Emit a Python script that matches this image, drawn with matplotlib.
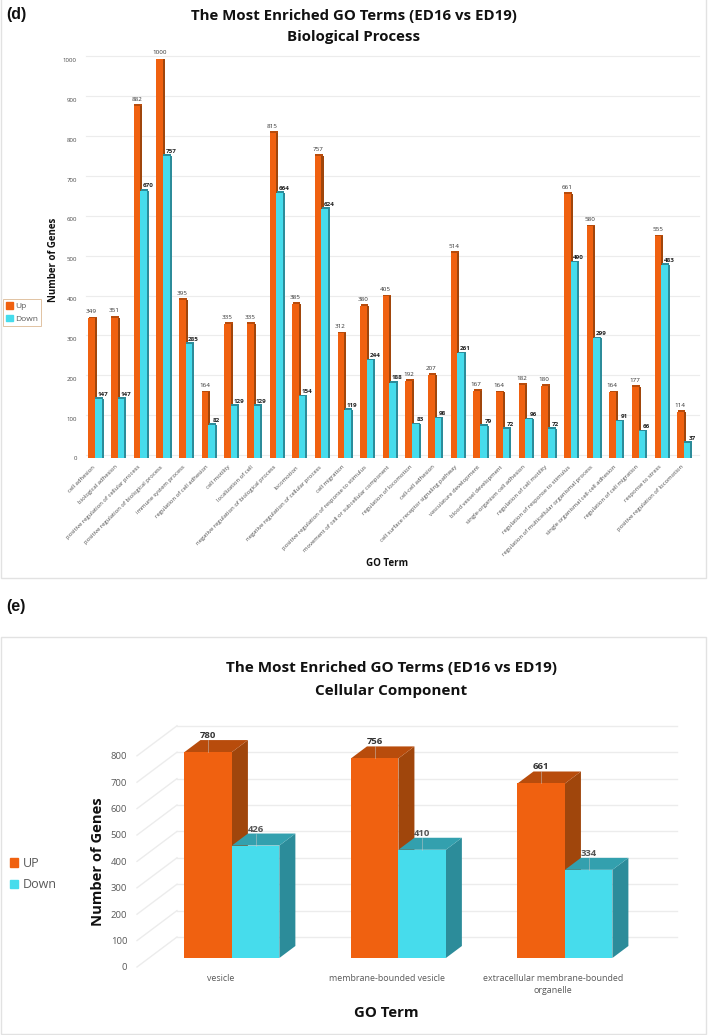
import matplotlib
matplotlib.use("Agg")
import matplotlib.pyplot as plt
from matplotlib.patches import Patch, Rectangle, Polygon
from matplotlib.transforms import ScaledTranslation

plt.rcParams['font.family'] = ['Open Sans', 'DejaVu Sans']

# ---------- data: panel (d) ----------
bp_terms = ["cell adhesion", "biological adhesion", "positive regulation of cellular process",
            "positive regulation of biological process", "immune system process",
            "regulation of cell adhesion", "cell motility", "localization of cell",
            "negative regulation of biological process", "locomotion",
            "negative regulation of cellular process", "cell migration",
            "positive regulation of response to stimulus",
            "movement of cell or subcellular component", "regulation of locomotion",
            "cell-cell adhesion", "cell surface receptor signaling pathway",
            "vasculature development", "blood vessel development",
            "single-organism cell adhesion", "regulation of cell motility",
            "regulation of response to stimulus",
            "regulation of multicellular organismal process",
            "single organismal cell-cell adhesion", "regulation of cell migration",
            "response to stress", "positive regulation of locomotion"]
bp_up = [349, 351, 882, 1000, 395, 164, 335, 335, 815, 385, 757, 312, 380, 405,
         192, 207, 514, 167, 164, 182, 180, 661, 580, 164, 177, 555, 114]
bp_down = [147, 147, 670, 757, 285, 82, 129, 129, 664, 154, 624, 119, 244, 188,
           83, 98, 261, 79, 72, 96, 72, 490, 299, 91, 66, 483, 37]
bp_ticks = list(range(0, 1001, 100))

# ---------- data: panel (e) ----------
cc_terms = ["vesicle", "membrane-bounded vesicle", "extracellular membrane-bounded\norganelle"]
cc_up = [780, 756, 661]
cc_down = [426, 410, 334]
cc_ticks = list(range(0, 801, 100))

# ---------- style ----------
W, H = 708, 1035
ORANGE, ORANGE_SIDE, ORANGE_TOP = '#F06110', '#A0460C', '#B84C0C'
CYAN, CYAN_SIDE, CYAN_TOP = '#46DCEC', '#2C8C9A', '#33A0AE'
GRID = '#ECECEC'
TXT = '#595959'
DARK = '#111111'

fig = plt.figure(figsize=(W / 100, H / 100), dpi=100, facecolor='white')


def px_axes(x0, y_top, x1, y_bot):
    return fig.add_axes([x0 / W, 1 - y_bot / H, (x1 - x0) / W, (y_bot - y_top) / H])


def ftext(x, y, s, **kw):
    kw.setdefault('ha', 'center')
    kw.setdefault('va', 'center')
    return fig.text(x / W, 1 - y / H, s, **kw)


def frame(x0, y0, x1, y1):
    fig.add_artist(Rectangle((x0 / W, 1 - y1 / H), (x1 - x0) / W, (y1 - y0) / H,
                             transform=fig.transFigure, fc='white', ec='#E2E2E2', lw=1, zorder=-5))


def shift_labels(ax, dy_px):
    off = ScaledTranslation(0, dy_px * 0.72 / 72, fig.dpi_scale_trans)
    for lab in ax.get_yticklabels():
        lab.set_transform(lab.get_transform() + off)


frame(1, -2, 706, 578)
frame(1, 637, 706, 1034)

ftext(6, 14, "(d)", ha='left', fontsize=11.5, fontweight='bold', color=DARK, family='Liberation Sans')
ftext(6, 607, "(e)", ha='left', fontsize=11.5, fontweight='bold', color=DARK, family='Liberation Sans')

# ---------- panel (d) ----------
ax = px_axes(86, 59, 699, 457.5)
ax.set_xlim(-0.397, 26.67)
ax.set_ylim(0, 1000)
ax.patch.set_alpha(0)
for s in ax.spines.values():
    s.set_visible(False)

grid_off = 2.5 * 1000 / 398.5   # back wall sits 2.5 px above the bar plane
for v in bp_ticks:
    ax.plot([-0.397, 26.67], [v + grid_off] * 2, color=GRID, lw=0.8, zorder=0, clip_on=False)

bw = 0.29
side = 0.09
cap = 4
xs = list(range(len(bp_terms)))
ax.bar([x - bw / 2 + side for x in xs], bp_up, bw, color=ORANGE_SIDE, zorder=2)
ax.bar([x - bw / 2 for x in xs], bp_up, bw, color=ORANGE, zorder=3)
ax.bar([x + bw / 2 + side for x in xs], bp_down, bw, color=CYAN_SIDE, zorder=4)
ax.bar([x + bw / 2 for x in xs], bp_down, bw, color=CYAN, zorder=5)
ax.bar([x - bw / 2 + side / 2 for x in xs], cap, bw + side * 0.6, bottom=bp_up, color=ORANGE_TOP, zorder=3)
ax.bar([x + bw / 2 + side / 2 for x in xs], cap, bw + side * 0.6, bottom=bp_down, color=CYAN_SIDE, zorder=5)

for x, u, d in zip(xs, bp_up, bp_down):
    ax.annotate(str(u), (x - bw / 2, u), xytext=(-0.3, 3.0), textcoords='offset points',
                ha='center', va='bottom', fontsize=4.5, color='#333333', zorder=6, annotation_clip=False)
    ax.annotate(str(d), (x + bw / 2, d), xytext=(3.4, 1.6), textcoords='offset points',
                ha='center', va='bottom', fontsize=4.5, color='#222222', fontweight='bold', zorder=6,
                annotation_clip=False)

ax.set_xticks([x - 0.12 for x in xs])
ax.set_xticklabels(bp_terms, rotation=45, ha='right', rotation_mode='anchor', fontsize=4.25, color='#4A4A4A')
ax.set_yticks(bp_ticks)
ax.tick_params(axis='both', length=0)
ax.tick_params(axis='x', pad=5)
ax.tick_params(axis='y', pad=6.5, labelsize=4.4, labelcolor='#4A4A4A')
shift_labels(ax, -1)

ftext(354, 16, "The Most Enriched GO Terms (ED16 vs ED19)", fontsize=10.8, fontweight='bold', color=DARK)
ftext(354, 37, "Biological Process", fontsize=10.8, fontweight='bold', color=DARK)
ftext(54, 260, "Number of Genes", rotation=90, fontsize=7, fontweight='bold', color=DARK)
ftext(387, 564, "GO Term", fontsize=7, fontweight='bold', color=DARK)

leg = fig.legend(handles=[Patch(color=ORANGE, label='Up'), Patch(color=CYAN, label='Down')],
                 loc='upper left', bbox_to_anchor=(3 / W, 1 - 299 / H), fontsize=6,
                 handlelength=0.8, handleheight=0.8, handletextpad=0.25, labelspacing=0.55,
                 borderpad=0.4, borderaxespad=0, fancybox=False, edgecolor='#D9B38C',
                 labelcolor=TXT)
leg.get_frame().set_linewidth(0.7)

# ---------- panel (e) ----------
PX_PER_UNIT = 0.264
ax2 = px_axes(137, 725, 677, 967)
ax2.set_xlim(-0.57, 2.673)
ax2.set_ylim(-9 / PX_PER_UNIT, 233 / PX_PER_UNIT)
ax2.patch.set_alpha(0)
for s in ax2.spines.values():
    s.set_visible(False)

depth_x = 16 / 166.5
depth_y = 12 / PX_PER_UNIT
wall_x = -0.57 + 40 / 166.5
front_drop = 9 / PX_PER_UNIT
back_rise = 21 / PX_PER_UNIT
for v in cc_ticks:
    ax2.plot([-0.57, wall_x], [v - front_drop, v + back_rise], color=GRID, lw=1, zorder=0, clip_on=False)
    ax2.plot([wall_x, 2.673], [v + back_rise] * 2, color=GRID, lw=1, zorder=0, clip_on=False)

bw2 = 0.285


def box(x0, v, front, sidec, topc, z):
    x1 = x0 + bw2
    ax2.add_patch(Polygon([(x1, 0), (x1 + depth_x, depth_y), (x1 + depth_x, v + depth_y), (x1, v)],
                          fc=sidec, ec='none', zorder=z))
    ax2.add_patch(Polygon([(x0, v), (x0 + depth_x, v + depth_y), (x1 + depth_x, v + depth_y), (x1, v)],
                          fc=topc, ec='none', zorder=z))
    ax2.bar(x0, v, bw2, align='edge', color=front, zorder=z + 0.1)
    mid = x0 + bw2 / 2
    ax2.plot([mid, mid], [v, v + depth_y], color='#C8C8C8', lw=0.5, alpha=0.7, zorder=z + 0.2)
    return mid


for i, (u, d) in enumerate(zip(cc_up, cc_down)):
    m = box(i - bw2, u, ORANGE, ORANGE_SIDE, ORANGE_TOP, 2)
    ax2.annotate(str(u), (m, u + depth_y), xytext=(0, 0), textcoords='offset points', ha='center',
                 va='bottom', fontsize=6.8, fontweight='bold', color='#333333', zorder=6, annotation_clip=False)
    m = box(i, d, CYAN, CYAN_SIDE, CYAN_TOP, 3)
    ax2.annotate(str(d), (m, d + depth_y), xytext=(0, 0), textcoords='offset points', ha='center',
                 va='bottom', fontsize=6.8, fontweight='bold', color='#555555', zorder=6, annotation_clip=False)

ax2.set_xticks([i - 0.07 for i in range(len(cc_terms))])
ax2.set_xticklabels(cc_terms, fontsize=6.4, color=TXT, linespacing=1.5)
ax2.set_yticks(cc_ticks)
ax2.tick_params(axis='both', length=0)
ax2.tick_params(axis='x', pad=5)
ax2.tick_params(axis='y', pad=7, labelsize=6.8, labelcolor=TXT)
shift_labels(ax2, -9)

ftext(391, 668, "The Most Enriched GO Terms (ED16 vs ED19)", fontsize=11, fontweight='bold', color=DARK)
ftext(391, 691, "Cellular Component", fontsize=11, fontweight='bold', color=DARK)
ftext(98, 862, "Number of Genes", rotation=90, fontsize=10.6, fontweight='bold', color=DARK)
ftext(386, 1013, "GO Term", fontsize=10.8, fontweight='bold', color=DARK)

fig.legend(handles=[Patch(color=ORANGE, label='UP'), Patch(color=CYAN, label='Down')],
           loc='upper left', bbox_to_anchor=(10 / W, 1 - 857 / H), fontsize=9,
           handlelength=0.65, handleheight=0.65, handletextpad=0.4, labelspacing=0.65,
           borderpad=0, borderaxespad=0, frameon=False, labelcolor=TXT)

fig.savefig('out.png', dpi=100, facecolor='white')
